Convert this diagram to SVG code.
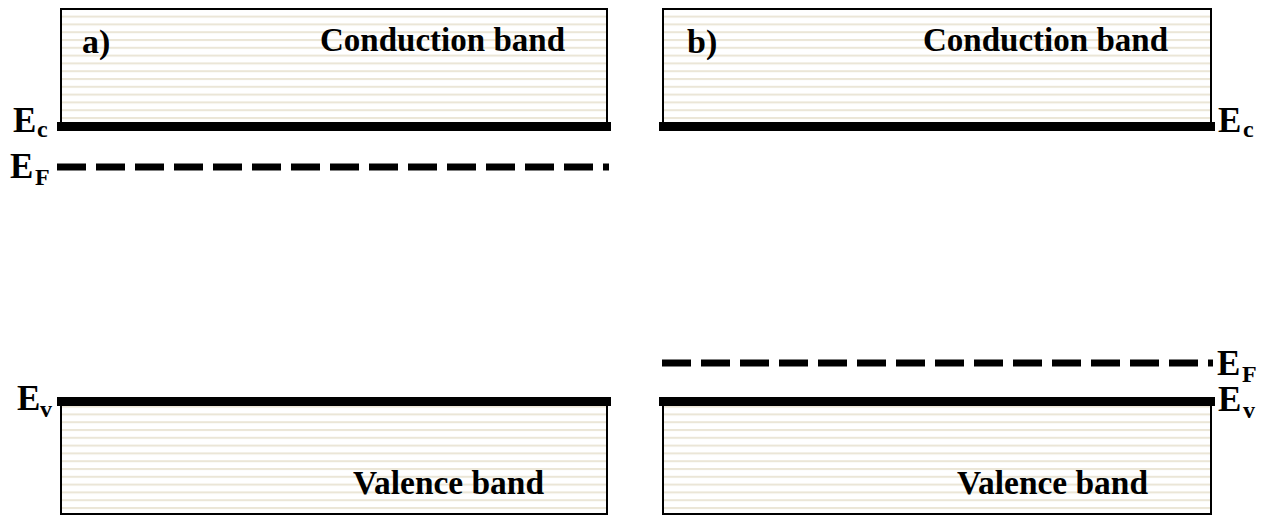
<svg xmlns="http://www.w3.org/2000/svg" width="1271" height="516" viewBox="0 0 1271 516">
  <style>
    text { font-family: 'Liberation Serif', 'DejaVu Serif', serif; font-weight: bold; fill: #000; }
    .band { font-size: 34px; }
    .e { font-size: 35px; }
    .sub { font-size: 24px; }
    .box { fill: url(#hatch); stroke: #000; stroke-width: 2; }
    .level { fill: #000; }
    .fermi { stroke: #000; stroke-width: 7; stroke-dasharray: 29 10; fill: none; }
  </style>
  <defs>
    <pattern id="hatch" patternUnits="userSpaceOnUse" x="0" y="0" width="8" height="7.8">
      <rect x="0" y="0" width="8" height="7.8" fill="#ffffff"/>
      <rect x="0" y="0" width="8" height="2" fill="#ebe6d7"/>
    </pattern>
  </defs>
  <rect width="1271" height="516" fill="#ffffff"/>

  <g id="panel-a-conduction">
    <rect class="box" x="61" y="9" width="546" height="116"/>
    <text class="band" x="82" y="53" font-family="Liberation Serif">a)</text>
    <text class="band" x="320" y="51" font-family="Liberation Serif" textLength="245" lengthAdjust="spacingAndGlyphs">Conduction band</text>
  </g>
  <g id="panel-a-valence">
    <rect class="box" x="61" y="404" width="546" height="110"/>
    <text class="band" x="353" y="494" font-family="Liberation Serif" textLength="191" lengthAdjust="spacingAndGlyphs">Valence band</text>
  </g>
  <g id="panel-b-conduction">
    <rect class="box" x="663" y="9" width="548" height="116"/>
    <text class="band" x="687" y="53" font-family="Liberation Serif">b)</text>
    <text class="band" x="923" y="51" font-family="Liberation Serif" textLength="245" lengthAdjust="spacingAndGlyphs">Conduction band</text>
  </g>
  <g id="panel-b-valence">
    <rect class="box" x="663" y="404" width="548" height="110"/>
    <text class="band" x="957" y="494" font-family="Liberation Serif" textLength="191" lengthAdjust="spacingAndGlyphs">Valence band</text>
  </g>

  <g id="levels">
    <rect class="level" x="57" y="122" width="554" height="9"/>
    <rect class="level" x="57" y="397" width="554" height="9"/>
    <rect class="level" x="659" y="122" width="556" height="9"/>
    <rect class="level" x="659" y="397" width="556" height="9"/>
    <line class="fermi" x1="57" y1="167" x2="609" y2="167"/>
    <line class="fermi" x1="662" y1="363" x2="1213" y2="363"/>
  </g>

  <g id="level-labels" font-family="Liberation Serif">
    <text class="e" x="13" y="132">E</text><text class="sub" x="37" y="137">c</text>
    <text class="e" x="10" y="178">E</text><text class="sub" x="35" y="185">F</text>
    <text class="e" x="17" y="410">E</text><text class="sub" x="40" y="417">v</text>
    <text class="e" x="1218" y="132">E</text><text class="sub" x="1243" y="137">c</text>
    <text class="e" x="1217" y="375">E</text><text class="sub" x="1242" y="382">F</text>
    <text class="e" x="1218" y="411">E</text><text class="sub" x="1243" y="418">v</text>
  </g>
</svg>
